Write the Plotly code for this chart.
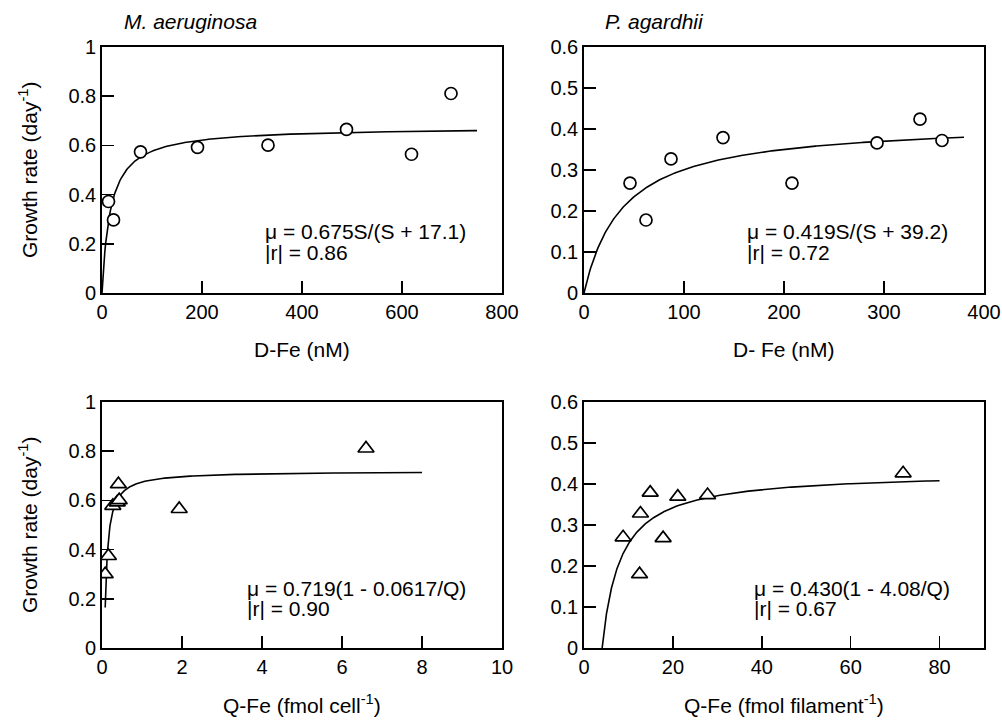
import numpy as np
import plotly.graph_objects as go

# ---- data ----
ma_dfe = [13, 23, 77, 191, 332, 489, 619, 698]
ma_mu = [0.372, 0.297, 0.574, 0.592, 0.601, 0.665, 0.564, 0.811]
pa_dfe = [46, 62, 87, 139, 208, 293, 336, 358]
pa_mu = [0.268, 0.178, 0.327, 0.379, 0.268, 0.366, 0.424, 0.372]

ma_qfe = [0.16, 0.08, 0.27, 0.38, 0.43, 0.41, 1.93, 6.6]
ma_qmu = [0.374, 0.300, 0.578, 0.592, 0.601, 0.666, 0.565, 0.811]
pa_qfe = [8.8, 12.5, 12.7, 14.9, 17.8, 21.1, 27.8, 71.8]
pa_qmu = [0.270, 0.180, 0.328, 0.379, 0.268, 0.369, 0.373, 0.426]

# fitted model parameters (from the equations printed on the chart)
ma_mm = (0.675, 17.1)
pa_mm = (0.419, 39.2)
ma_dr = (0.719, 0.0617)
pa_dr = (0.430, 4.08)

FONT = "Arial, Liberation Sans, Helvetica, sans-serif"
W, H = 1002, 721

fig = go.Figure()

def px_x(p):
    return p / W

def px_y(p):
    return 1 - p / H

panels = {
    "tl": dict(xd=[px_x(102), px_x(502)], yd=[px_y(293), px_y(47)]),
    "tr": dict(xd=[px_x(584), px_x(984)], yd=[px_y(293), px_y(47)]),
    "bl": dict(xd=[px_x(102), px_x(502)], yd=[px_y(648), px_y(402)]),
    "br": dict(xd=[px_x(584), px_x(984)], yd=[px_y(648), px_y(402)]),
}

line_style = dict(color="black", width=1.6)
tri = dict(symbol="triangle-up", size=14, color="white", line=dict(width=1.7, color="black"))
circ_f = dict(symbol="circle", size=12, color="white", line=dict(width=1.7, color="black"))

# Monod curves
s1 = np.linspace(0, 750, 400)
fig.add_trace(go.Scatter(x=s1, y=ma_mm[0] * s1 / (s1 + ma_mm[1]), mode="lines", line=line_style, xaxis="x", yaxis="y"))
fig.add_trace(go.Scatter(x=ma_dfe, y=ma_mu, mode="markers", marker=circ_f, xaxis="x", yaxis="y"))

s2 = np.linspace(0, 380, 400)
fig.add_trace(go.Scatter(x=s2, y=pa_mm[0] * s2 / (s2 + pa_mm[1]), mode="lines", line=line_style, xaxis="x2", yaxis="y2"))
fig.add_trace(go.Scatter(x=pa_dfe, y=pa_mu, mode="markers", marker=circ_f, xaxis="x2", yaxis="y2"))

# Droop curves
q1 = np.concatenate([np.linspace(0.08, 1, 300), np.linspace(1, 8, 100)])
fig.add_trace(go.Scatter(x=q1, y=ma_dr[0] * (1 - ma_dr[1] / q1), mode="lines", line=line_style, xaxis="x3", yaxis="y3"))
fig.add_trace(go.Scatter(x=ma_qfe, y=ma_qmu, mode="markers", marker=tri, xaxis="x3", yaxis="y3"))

q2 = np.concatenate([np.linspace(4.08, 20, 300), np.linspace(20, 80, 100)])
fig.add_trace(go.Scatter(x=q2, y=pa_dr[0] * (1 - pa_dr[1] / q2), mode="lines", line=line_style, xaxis="x4", yaxis="y4"))
fig.add_trace(go.Scatter(x=pa_qfe, y=pa_qmu, mode="markers", marker=tri, xaxis="x4", yaxis="y4"))

def axis_common():
    return dict(showgrid=False, zeroline=False, showline=True, linecolor="black", linewidth=1.8,
                mirror=True, ticks="inside", ticklen=12, tickwidth=1.6, tickcolor="black",
                automargin=False,
                tickfont=dict(family=FONT, size=20, color="black"), fixedrange=True)

xr = {"tl": ([0, 800], 200), "tr": ([0, 400], 100), "bl": ([0, 10], 2), "br": ([0, 90], 20)}
yr = {"tl": ([0, 1], 0.2), "tr": ([0, 0.6], 0.1), "bl": ([0, 1], 0.2), "br": ([0, 0.6], 0.1)}

layout = dict(width=W, height=H, margin=dict(l=0, r=0, t=0, b=0, pad=0, autoexpand=False),
              showlegend=False, plot_bgcolor="white", paper_bgcolor="white", hovermode=False)
for i, k in enumerate(["tl", "tr", "bl", "br"]):
    sfx = "" if i == 0 else str(i + 1)
    p = panels[k]
    xa = axis_common()
    xa.update(domain=p["xd"], range=xr[k][0], dtick=xr[k][1], tick0=0, anchor="y" + sfx)
    ya = axis_common()
    ya.update(domain=p["yd"], range=yr[k][0], dtick=yr[k][1], tick0=0, anchor="x" + sfx)
    layout["xaxis" + sfx] = xa
    layout["yaxis" + sfx] = ya

fig.update_layout(**layout)

def ann(text, x, y, size=21, xanchor="left", angle=0, italic=False):
    t = "<i>" + text + "</i>" if italic else text
    fig.add_annotation(text=t, x=px_x(x), y=px_y(y), xref="paper", yref="paper",
                       xanchor=xanchor, yanchor="middle", showarrow=False, textangle=angle,
                       font=dict(family=FONT, size=size, color="black"))

ann("M. aeruginosa", 122, 22, italic=True)
ann("P. agardhii", 603, 22, italic=True)

ann("Growth rate (day<sup>-1</sup>)", 28, 170, xanchor="center", angle=-90)
ann("Growth rate (day<sup>-1</sup>)", 28, 525, xanchor="center", angle=-90)

ann("D-Fe (nM)", 302, 349, xanchor="center")
ann("D- Fe (nM)", 784, 349, xanchor="center")
ann("Q-Fe (fmol cell<sup>-1</sup>)", 302, 704, xanchor="center")
ann("Q-Fe (fmol filament<sup>-1</sup>)", 784, 704, xanchor="center")

ann("μ = 0.675S/(S + 17.1)", 263, 231)
ann("|r| = 0.86", 263, 252)
ann("μ = 0.419S/(S + 39.2)", 745, 231)
ann("|r| = 0.72", 745, 252)
ann("μ = 0.719(1 - 0.0617/Q)", 245, 588)
ann("|r| = 0.90", 245, 608)
ann("μ = 0.430(1 - 4.08/Q)", 752, 588)
ann("|r| = 0.67", 752, 608)

fig.write_html(
    "out.html",
    config={"displayModeBar": False, "staticPlot": True},
    post_script="document.body.style.margin='0';document.body.style.overflow='hidden';",
)
